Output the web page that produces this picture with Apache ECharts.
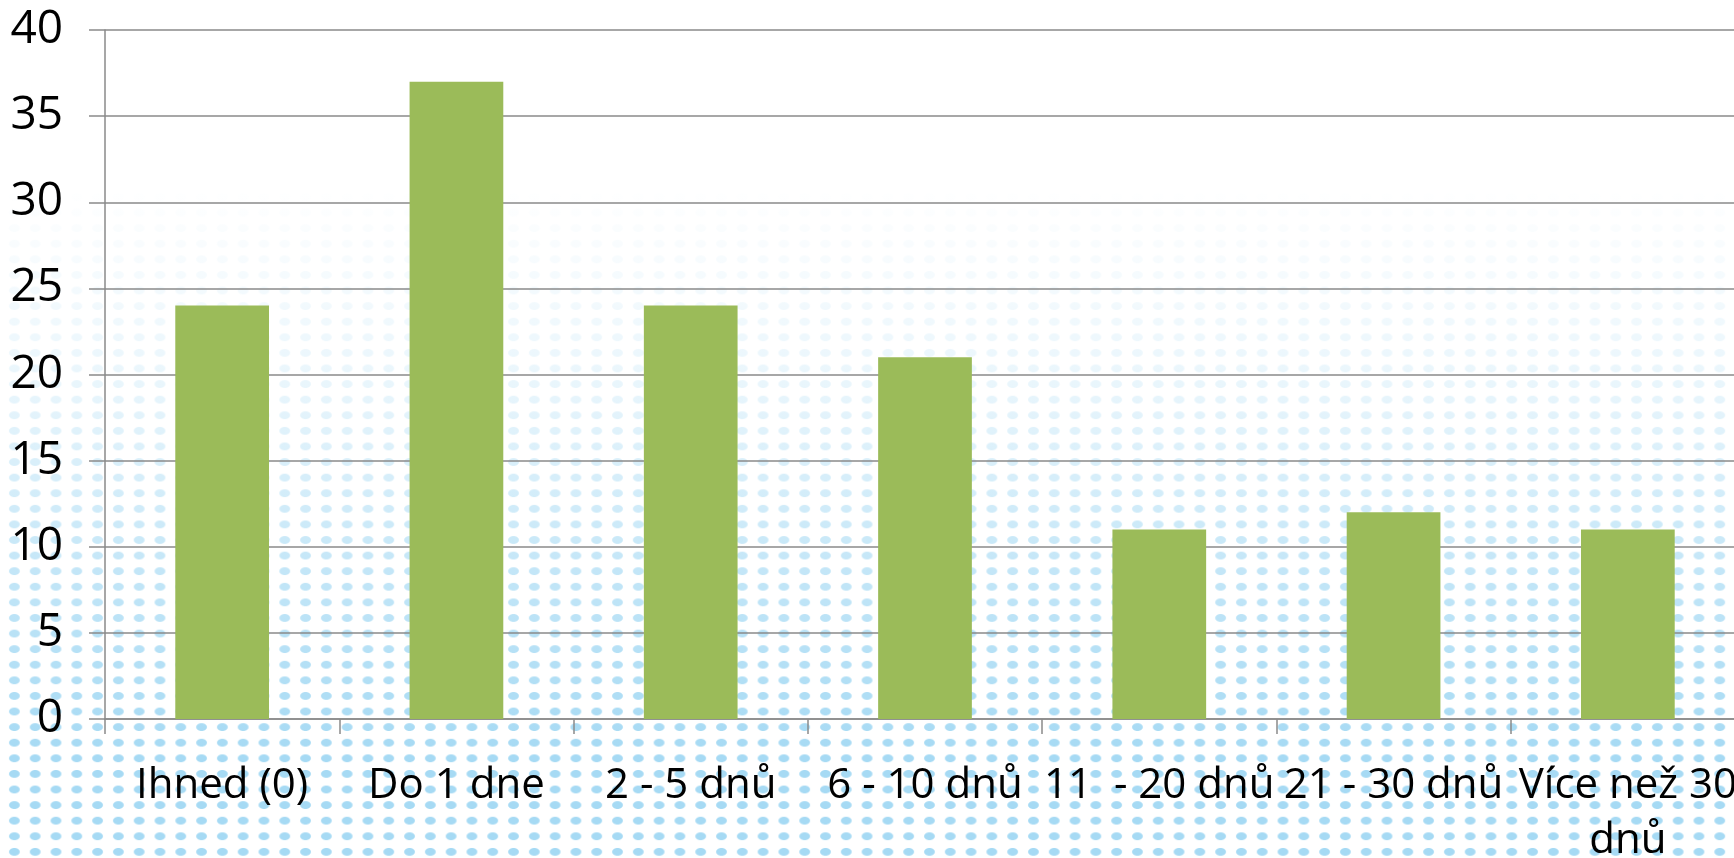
<!DOCTYPE html>
<html>
<head>
<meta charset="utf-8">
<script src="https://cdn.jsdelivr.net/npm/echarts@6/dist/echarts.min.js"></script>
<style>
  html, body {
    margin: 0;
    padding: 0;
    width: 1734px;
    height: 858px;
    overflow: hidden;
  }
  /* dotted backdrop fading to white towards the top */
  #chart {
    width: 1734px;
    height: 858px;
    background-color: #fff;
    background-image:
      linear-gradient(to bottom, rgba(255,255,255,1) 22%, rgba(255,255,255,0.75) 45%, rgba(255,255,255,0.3) 68%, rgba(255,255,255,0) 88%),
      radial-gradient(ellipse 6px 4.3px at center, #a6daf4 80%, rgba(166,218,244,0) 100%);
    background-size: 100% 100%, 20.8px 15.6px;
    background-position: 0 0, 4px 2px;
  }
</style>
</head>
<body>
<div id="chart"></div>
<script>
const categories = ['Ihned (0)', 'Do 1 dne', '2 - 5 dnů', '6 - 10 dnů', '11  - 20 dnů', '21 - 30 dnů', 'Více než 30 dnů'];
const values = [24, 37, 24, 21, 11, 12, 11];

const lineColor = '#8a8a8a';
const chart = echarts.init(document.getElementById('chart'), null, { renderer: 'canvas' });

// long labels wrap onto a second line at the last space
function wrapLabel (value) {
  if (value.length <= 13) return value;
  const i = value.lastIndexOf(' ');
  return value.slice(0, i) + '\n' + value.slice(i + 1);
}

const option = {
  backgroundColor: 'transparent',
  animation: false,
  textStyle: { fontFamily: 'Open Sans' },
  grid: {
    left: 105,
    top: 30,
    width: 1640,
    height: 689,
    containLabel: false,
    outerBoundsMode: 'none'
  },
  xAxis: {
    type: 'category',
    data: categories,
    boundaryGap: true,
    axisLine: { lineStyle: { color: lineColor, width: 1.5 } },
    axisTick: { show: true, interval: 0, length: 15, lineStyle: { color: lineColor, width: 1.5 } },
    axisLabel: {
      interval: 0,
      margin: 40,
      fontSize: 42,
      color: '#000',
      lineHeight: 55,
      formatter: wrapLabel
    }
  },
  yAxis: {
    type: 'value',
    min: 0,
    max: 40,
    interval: 5,
    axisLine: { show: true, lineStyle: { color: lineColor, width: 1.5 } },
    axisTick: { show: true, length: 16, lineStyle: { color: lineColor, width: 1.5 } },
    splitLine: { show: true, lineStyle: { color: lineColor, width: 1.5 } },
    axisLabel: { margin: 42, fontSize: 46, color: '#000' }
  },
  series: [{
    type: 'bar',
    data: values,
    barWidth: '40%',
    itemStyle: { color: '#9bbb59' }
  }]
};

chart.setOption(option);
</script>
</body>
</html>
